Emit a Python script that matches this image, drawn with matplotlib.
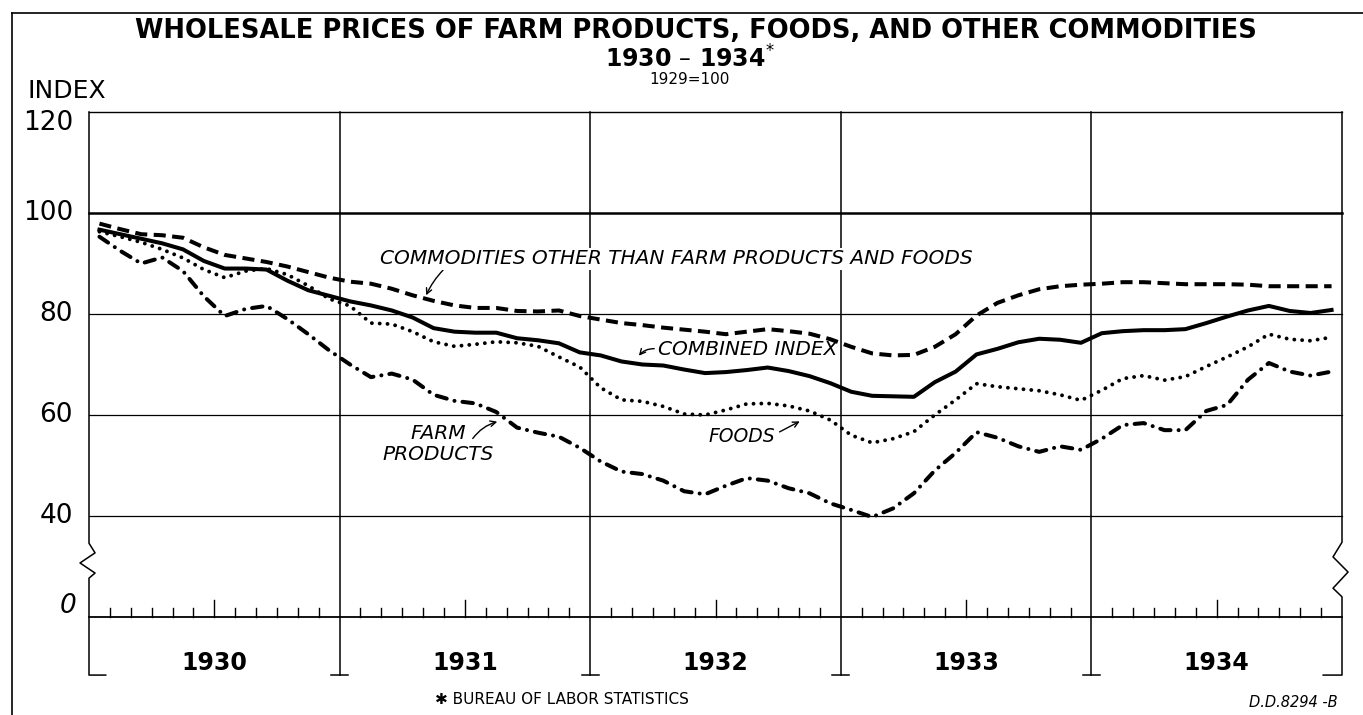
import numpy as np
import matplotlib
matplotlib.use('Agg')
import matplotlib.pyplot as plt
from matplotlib.lines import Line2D

# monthly index numbers, Jan 1930 .. Dec 1934 (1929=100)
farm = [95.3, 92.5, 90.0, 91.2, 88.5, 83.5, 79.6, 81.0, 81.6, 79.0, 76.0, 72.8,
        70.0, 67.5, 68.2, 67.0, 64.0, 62.8, 62.3, 60.6, 57.5, 56.5, 55.7, 53.5,
        50.8, 48.8, 48.3, 47.0, 44.9, 44.3, 46.0, 47.5, 47.0, 45.5, 44.5, 42.5,
        41.2, 39.8, 41.5, 44.5, 49.0, 52.5, 56.6, 55.5, 53.8, 52.7, 53.8, 53.1,
        55.3, 58.0, 58.4, 57.0, 57.0, 60.8, 62.0, 67.0, 70.3, 68.6, 67.8, 68.6]
combined = [96.7, 95.8, 94.9, 94.0, 92.8, 90.5, 89.0, 89.0, 88.8, 86.6, 84.7, 83.6,
            82.5, 81.7, 80.7, 79.3, 77.2, 76.5, 76.3, 76.3, 75.2, 74.8, 74.2, 72.4,
            71.8, 70.6, 70.0, 69.8, 69.0, 68.3, 68.5, 68.9, 69.4, 68.7, 67.7, 66.3,
            64.6, 63.8, 63.7, 63.6, 66.5, 68.6, 72.0, 73.1, 74.4, 75.1, 74.9, 74.3,
            76.2, 76.6, 76.8, 76.8, 77.0, 78.2, 79.5, 80.7, 81.6, 80.6, 80.2, 80.8]
foods = [96.3, 95.3, 94.2, 92.8, 91.1, 88.8, 87.2, 88.5, 89.0, 87.8, 85.6, 83.0,
         81.6, 78.2, 78.0, 76.5, 74.5, 73.6, 74.0, 74.5, 74.3, 73.6, 71.5, 69.5,
         65.4, 63.0, 62.7, 61.7, 60.2, 60.0, 61.0, 62.2, 62.3, 61.8, 60.8, 59.0,
         56.0, 54.5, 55.3, 56.7, 60.0, 63.0, 66.2, 65.6, 65.2, 64.8, 64.0, 62.9,
         64.9, 67.2, 67.8, 66.9, 67.6, 69.6, 71.5, 73.5, 76.0, 75.0, 74.7, 75.4]
other = [97.9, 96.8, 95.8, 95.6, 95.1, 93.2, 91.7, 91.0, 90.3, 89.4, 88.3, 87.2,
         86.4, 86.0, 85.0, 83.7, 82.6, 81.7, 81.2, 81.2, 80.6, 80.5, 80.7, 79.6,
         78.9, 78.2, 77.8, 77.3, 76.9, 76.5, 76.0, 76.5, 77.0, 76.6, 76.1, 75.0,
         73.5, 72.2, 71.8, 71.9, 73.5, 76.0, 79.7, 82.2, 83.7, 84.9, 85.5, 85.8,
         86.0, 86.3, 86.3, 86.1, 85.9, 85.9, 85.9, 85.8, 85.5, 85.5, 85.5, 85.5]

years = ['1930', '1931', '1932', '1933', '1934']
ytick_vals = [100, 80, 60, 40]

plt.rcParams['font.family'] = ['DejaVu Sans']
fig = plt.figure(figsize=(13.63, 7.15), dpi=100)
ax = fig.add_axes([89/1363, 98/715, 1253/1363, 505/715])
ax.set_xlim(0, 60)
ax.set_ylim(20, 120)
ax.axis('off')

k = dict(color='black', clip_on=False)
x = np.arange(60) + 0.5

# horizontal rules
ax.plot([0, 60], [120, 120], lw=1.0, **k)
ax.plot([0, 60], [100, 100], lw=1.8, **k)
for v in [80, 60, 40]:
    ax.plot([0, 60], [v, v], lw=0.9, **k)
ax.plot([0, 60], [20, 20], lw=1.3, **k)

# year dividers with feet
ybot = 8.5
for b in [12, 24, 36, 48]:
    ax.plot([b, b], [ybot, 120], lw=1.1, **k)
    ax.plot([b-0.4, b+0.4], [ybot, ybot], lw=1.1, **k)

# side lines with axis breaks
ax.plot([0, 0, 0.29, -0.43, 0.29, 0, 0, 0.8],
        [120, 34.6, 32.7, 30.7, 28.7, 27.7, ybot, ybot], lw=1.1, **k)
ax.plot([60, 60, 59.57, 60.29, 59.57, 60, 60, 59.1],
        [120, 34.8, 31.9, 28.9, 25.7, 24.0, ybot, ybot], lw=1.1, **k)

# month ticks
for m in range(1, 60):
    if m % 12 == 0:
        continue
    h = 3.4 if m % 12 == 6 else 1.8
    ax.plot([m, m], [20, 20+h], lw=1.0, **k)

# series
ax.plot(x, other, color='black', lw=2.9, linestyle=(0, (3.0, 1.6)), zorder=3)
ax.plot(x, combined, color='black', lw=2.9, solid_joinstyle='round', zorder=3)
ax.plot(x, foods, color='black', lw=2.8, linestyle=(0, (0.01, 2.0)),
        dash_capstyle='round', zorder=3)
ax.plot(x, farm, color='black', lw=2.9, linestyle=(0, (2.6, 2.0, 0.01, 2.0)),
        dash_capstyle='round', zorder=3)

# labels on the curves
lab = dict(fontsize=14.5, style='italic', color='black')
ax.text(13.94, 90.9, 'COMMODITIES OTHER THAN FARM PRODUCTS AND FOODS', ha='left', va='center',
        bbox=dict(facecolor='white', edgecolor='none', pad=1), zorder=4, **lab)
ax.annotate('', xy=(16.09, 83.2), xytext=(17.05, 89.1),
            arrowprops=dict(arrowstyle='->', lw=1.0, color='black', connectionstyle='arc3,rad=0.1'))
ax.text(27.25, 72.9, 'COMBINED INDEX', ha='left', va='center', **lab)
ax.annotate('', xy=(26.25, 71.3), xytext=(27.2, 73.1),
            arrowprops=dict(arrowstyle='->', lw=1.0, color='black', connectionstyle='arc3,rad=0.3'))
ax.text(29.65, 55.8, 'FOODS', ha='left', va='center', fontsize=13.5, style='italic')
ax.annotate('', xy=(34.15, 59.0), xytext=(32.95, 56.4),
            arrowprops=dict(arrowstyle='->', lw=1.0, color='black'))
ax.text(16.71, 54.3, 'FARM\nPRODUCTS', ha='center', va='center', linespacing=1.15, **lab)
ax.annotate('', xy=(19.68, 58.8), xytext=(18.3, 54.9),
            arrowprops=dict(arrowstyle='->', lw=1.0, color='black', connectionstyle='arc3,rad=-0.2'))

# y labels
tk = dict(fontsize=19, ha='right', va='center', color='black')
ax.text(-0.77, 117.8, '120', **tk)
for v in ytick_vals:
    ax.text(-0.77, v, str(v), **tk)
ax.text(-0.6, 22.2, '0', style='italic', **tk)

# year labels
for i, yr in enumerate(years):
    ax.text(6 + 12*i, 10.9, yr, fontsize=17, fontweight='bold', ha='center', va='center')

# titles and notes
fig.text(0.5106, 0.956, 'WHOLESALE PRICES OF FARM PRODUCTS, FOODS, AND OTHER COMMODITIES',
         fontsize=18.5, fontweight='bold', ha='center', va='center')
fig.text(0.506, 0.918, r'1930 – 1934$^{*}$', fontsize=17, fontweight='bold', ha='center', va='center')
fig.text(0.506, 0.889, '1929=100', fontsize=11, ha='center', va='center')
fig.text(0.0205, 0.8727, 'INDEX', fontsize=18, ha='left', va='center')
fig.text(0.412, 0.021, '✱ BUREAU OF LABOR STATISTICS', fontsize=11, ha='center', va='center')
fig.text(0.9817, 0.018, 'D.D.8294 -B', fontsize=10.5, style='italic', ha='right', va='center')

# outer frame
fig.add_artist(Line2D([12/1363, 12/1363], [0, 1-13/715], color='black', lw=1.2))
fig.add_artist(Line2D([12/1363, 1], [1-13/715, 1-13/715], color='black', lw=1.2))

fig.savefig('out.png', dpi=100)
